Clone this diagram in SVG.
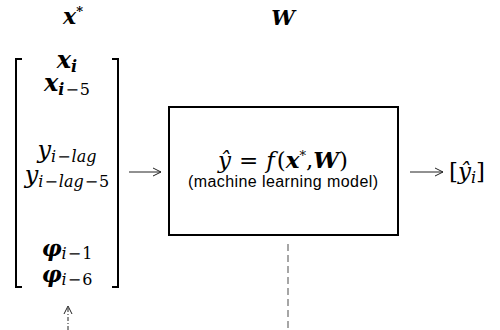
<svg xmlns="http://www.w3.org/2000/svg" width="500" height="330" viewBox="0 0 500 330">
<style>
.m{font-family:"DejaVu Serif","Liberation Serif",serif;font-style:italic;fill:#000}
.b{font-weight:bold}
.n{font-style:normal}
.s{font-size:16px}
.lab{font-family:"Liberation Sans",Arial,sans-serif;font-size:16px;fill:#000}
.br{fill:none;stroke:#000;stroke-width:2}
.ar{fill:none;stroke:#222;stroke-width:1}
</style>
<defs>
<marker id="oa" viewBox="0 0 10 10" refX="9" refY="5" markerWidth="10" markerHeight="10" markerUnits="userSpaceOnUse" orient="auto">
<path d="M1,1 L9,5 L1,9" fill="none" stroke="#222" stroke-width="1"/>
</marker>
</defs>
<g id="label-xstar">
<text class="m b" x="73" y="24" font-size="22" text-anchor="middle">x<tspan class="n" font-size="13" dy="-8">*</tspan></text>
</g>
<g id="label-W">
<text class="m b" x="283" y="25" font-size="21" text-anchor="middle">W</text>
</g>
<g id="input-vector">
<path class="br" d="M22,59 H16 V287 H22"/>
<path class="br" d="M112,59 H118 V287 H112"/>
<text class="m" x="67" y="68" font-size="24" text-anchor="middle"><tspan class="b">x</tspan><tspan class="s b" dy="4">i</tspan></text>
<text class="m" x="67" y="91" font-size="24" text-anchor="middle"><tspan class="b">x</tspan><tspan class="s" dy="4"><tspan class="b">i</tspan><tspan class="n" dx="1">−</tspan><tspan class="n" dx="1">5</tspan></tspan></text>
<text class="m" x="67" y="158" font-size="24" text-anchor="middle">y<tspan class="s" dy="4">i<tspan class="n" dx="1">−</tspan><tspan dx="1">lag</tspan></tspan></text>
<text class="m" x="67" y="183" font-size="24" text-anchor="middle">y<tspan class="s" dy="4">i<tspan class="n" dx="1">−</tspan><tspan dx="1">lag</tspan><tspan class="n" dx="1">−</tspan><tspan class="n" dx="1">5</tspan></tspan></text>
<text class="m" x="67" y="256" font-size="22" text-anchor="middle"><tspan class="b">φ</tspan><tspan class="s" dy="3">i<tspan class="n" dx="1">−</tspan><tspan class="n" dx="1">1</tspan></tspan></text>
<text class="m" x="67" y="282" font-size="22" text-anchor="middle"><tspan class="b">φ</tspan><tspan class="s" dy="3">i<tspan class="n" dx="1">−</tspan><tspan class="n" dx="1">6</tspan></tspan></text>
</g>
<g id="model">
<rect x="169" y="107" width="229" height="128" fill="#fff" stroke="#000" stroke-width="2"/>
<text class="m" x="283" y="168" font-size="23" text-anchor="middle">ŷ<tspan class="n" dx="8">=</tspan><tspan dx="8">f</tspan><tspan class="n" dx="2">(</tspan><tspan class="b">x</tspan><tspan class="n" font-size="13" dy="-8">*</tspan><tspan class="n" dy="8">,</tspan><tspan class="b">W</tspan><tspan class="n">)</tspan></text>
<text class="lab" x="283" y="187" text-anchor="middle" textLength="190" lengthAdjust="spacing">(machine learning model)</text>
</g>
<g id="output">
<text class="m" x="467" y="179" font-size="23" text-anchor="middle"><tspan class="n">[</tspan>ŷ<tspan class="s" dy="4">i</tspan><tspan class="n" dy="-4">]</tspan></text>
</g>
<g id="connectors">
<line class="ar" x1="129" y1="172" x2="161" y2="172" marker-end="url(#oa)"/>
<line class="ar" x1="410" y1="172" x2="443" y2="172" marker-end="url(#oa)"/>
<line x1="288" y1="244" x2="288" y2="330" stroke="#777" stroke-width="1.3" stroke-dasharray="7,4"/>
<line class="ar" x1="68" y1="330" x2="68" y2="306" stroke-dasharray="4,2,1,2" marker-end="url(#oa)"/>
</g>
</svg>
